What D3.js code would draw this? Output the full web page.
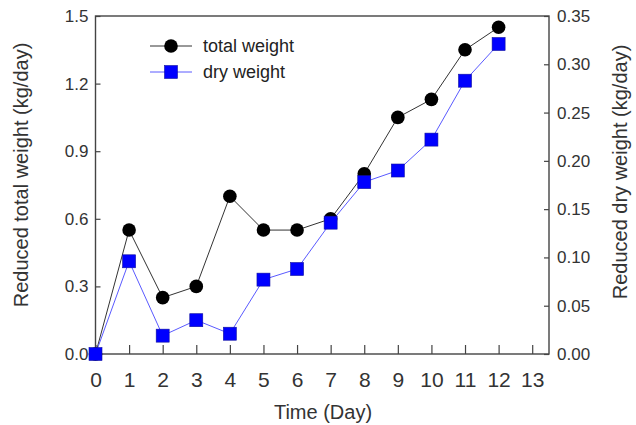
<!DOCTYPE html>
<html>
<head>
<meta charset="utf-8">
<script src="https://cdn.jsdelivr.net/npm/d3@7"></script>
<style>
  html, body { margin: 0; padding: 0; background: #fff; }
  svg { display: block; }
  text { font-family: Arial, "Liberation Sans", sans-serif; }
</style>
</head>
<body>
<script>
// Daily reduction of total and dry weight
const days = [0, 1, 2, 3, 4, 5, 6, 7, 8, 9, 10, 11, 12];
const totalWeight = [0, 0.55, 0.25, 0.30, 0.70, 0.55, 0.55, 0.60, 0.80, 1.05, 1.13, 1.35, 1.45];
const dryWeight = [0, 0.096, 0.019, 0.035, 0.021, 0.077, 0.088, 0.136, 0.178, 0.190, 0.222, 0.283, 0.321];

const xTicks = [0, 1, 2, 3, 4, 5, 6, 7, 8, 9, 10, 11, 12, 13];
const leftTicks = [0, 0.3, 0.6, 0.9, 1.2, 1.5];
const rightTicks = [0, 0.05, 0.10, 0.15, 0.20, 0.25, 0.30, 0.35];

const seriesNames = ["total weight", "dry weight"];
const axisTitles = {
  x: "Time (Day)",
  left: "Reduced total weight (kg/day)",
  right: "Reduced dry weight (kg/day)"
};

const W = 636, H = 425;
const plot = { left: 95.5, right: 549, top: 16, bottom: 354 };
const axisColor = "#444";
const textColor = "#333";

const svg = d3.select("body").append("svg")
  .attr("width", W).attr("height", H);

const x = d3.scaleLinear().domain([0, 13.5]).range([plot.left, plot.right]);
const yL = d3.scaleLinear().domain([0, 1.5]).range([plot.bottom, plot.top]);
const yR = d3.scaleLinear().domain([0, 0.35]).range([plot.bottom, plot.top]);

// frame
svg.append("rect")
  .attr("x", plot.left).attr("y", plot.top)
  .attr("width", plot.right - plot.left).attr("height", plot.bottom - plot.top)
  .attr("fill", "none").attr("stroke", axisColor).attr("stroke-width", 1.4);

function styleAxis(g, fontSize) {
  g.select(".domain").remove();
  g.selectAll(".tick line").attr("stroke", axisColor).attr("stroke-width", 1.2);
  g.selectAll(".tick text")
    .attr("fill", textColor)
    .style("font-size", fontSize + "px")
    .style("font-family", "Arial, 'Liberation Sans', sans-serif");
}

// bottom axis with inward ticks
svg.append("g")
  .attr("transform", `translate(0,${plot.bottom})`)
  .call(d3.axisBottom(x).tickValues(xTicks).tickFormat(d3.format("d"))
    .tickSizeInner(-9).tickSizeOuter(0).tickPadding(18))
  .call(g => styleAxis(g, 21));

// left axis
svg.append("g")
  .attr("transform", `translate(${plot.left},0)`)
  .call(d3.axisLeft(yL).tickValues(leftTicks).tickFormat(d3.format(".1f"))
    .tickSizeInner(-5).tickSizeOuter(0).tickPadding(7))
  .call(g => styleAxis(g, 17));

// right axis
svg.append("g")
  .attr("transform", `translate(${plot.right},0)`)
  .call(d3.axisRight(yR).tickValues(rightTicks).tickFormat(d3.format(".2f"))
    .tickSizeInner(-5).tickSizeOuter(0).tickPadding(8))
  .call(g => styleAxis(g, 17));

// axis titles
svg.append("text")
  .attr("transform", `translate(28,175) rotate(-90)`)
  .attr("text-anchor", "middle")
  .attr("fill", textColor)
  .style("font-size", "20px")
  .text(axisTitles.left);

svg.append("text")
  .attr("transform", `translate(627,172) rotate(-90)`)
  .attr("text-anchor", "middle")
  .attr("fill", textColor)
  .style("font-size", "20px")
  .text(axisTitles.right);

svg.append("text")
  .attr("x", 323).attr("y", 419)
  .attr("text-anchor", "middle")
  .attr("fill", textColor)
  .style("font-size", "20px")
  .text(axisTitles.x);

// series
const totalData = days.map((d, i) => ({ d, v: totalWeight[i] }));
const dryData = days.map((d, i) => ({ d, v: dryWeight[i] }));

svg.append("path")
  .datum(totalData)
  .attr("fill", "none").attr("stroke", "#333").attr("stroke-width", 1)
  .attr("d", d3.line().x(p => x(p.d)).y(p => yL(p.v)));

svg.append("path")
  .datum(dryData)
  .attr("fill", "none").attr("stroke", "#5a5aff").attr("stroke-width", 1)
  .attr("d", d3.line().x(p => x(p.d)).y(p => yR(p.v)));

svg.append("g").selectAll("circle")
  .data(totalData).join("circle")
  .attr("cx", p => x(p.d)).attr("cy", p => yL(p.v))
  .attr("r", 6.8).attr("fill", "#000");

const sq = 13;
svg.append("g").selectAll("rect")
  .data(dryData).join("rect")
  .attr("x", p => x(p.d) - sq / 2).attr("y", p => yR(p.v) - sq / 2)
  .attr("width", sq).attr("height", sq)
  .attr("fill", "#0000ff").attr("stroke", "#1010a0").attr("stroke-width", 0.6);

// legend
const legend = svg.append("g");
const legendRows = [46, 72];
legendRows.forEach((ly, i) => {
  legend.append("line")
    .attr("x1", 150).attr("x2", 192).attr("y1", ly).attr("y2", ly)
    .attr("stroke", i === 0 ? "#333" : "#5a5aff").attr("stroke-width", 1);
  if (i === 0) {
    legend.append("circle").attr("cx", 171).attr("cy", ly).attr("r", 6.8).attr("fill", "#000");
  } else {
    legend.append("rect").attr("x", 171 - sq / 2).attr("y", ly - sq / 2)
      .attr("width", sq).attr("height", sq)
      .attr("fill", "#0000ff").attr("stroke", "#1010a0").attr("stroke-width", 0.6);
  }
  legend.append("text")
    .attr("x", 203).attr("y", ly)
    .attr("dominant-baseline", "central")
    .attr("fill", "#222")
    .style("font-size", "18px")
    .text(seriesNames[i]);
});
</script>
</body>
</html>
